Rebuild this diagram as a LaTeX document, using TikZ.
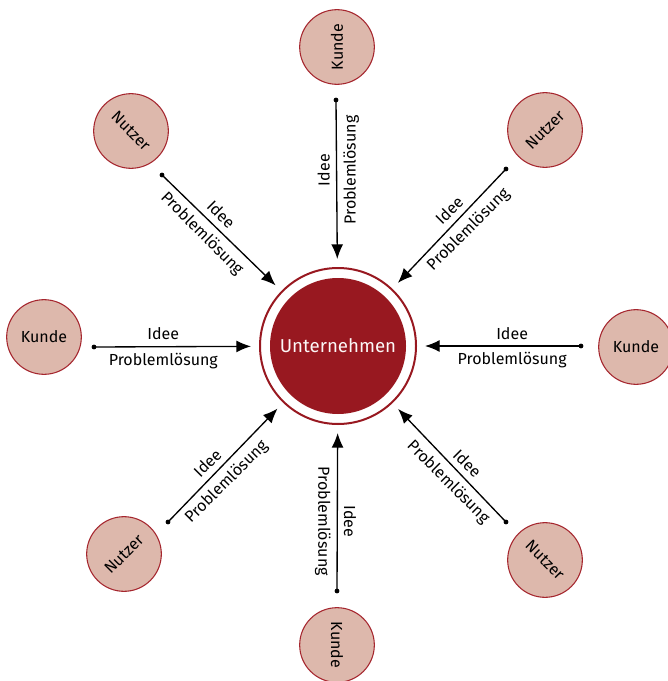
\documentclass[tikz,border=0pt]{standalone}
\usepackage{fontspec}
\setmainfont{Fira Sans}
\usetikzlibrary{arrows.meta}
\definecolor{firmred}{RGB}{152,24,32}
\definecolor{rimred}{RGB}{165,38,46}
\definecolor{rosefill}{RGB}{221,184,172}
\tikzset{actor/.style={circle, draw=rimred, line width=0.8pt, fill=rosefill, minimum size=56pt, inner sep=0pt, font=\fontsize{12}{14}\selectfont}}
\tikzset{flow/.style={-{Latex[length=11pt,width=9pt]}, line width=1pt, shorten >=6pt}}
\tikzset{tag/.style={font=\fontsize{12}{14}\selectfont, pos=0.42, inner sep=4.5pt}}

\begin{document}
\begin{tikzpicture}[x=0.75pt, y=-0.75pt]
        \useasboundingbox (0,0) rectangle (667,681);

        \coordinate (pT) at (336,100);
        \coordinate (pL) at (94,347);
        \coordinate (pR) at (581,346);
        \coordinate (pB) at (337,591);
        \coordinate (pTL) at (162,175);
        \coordinate (pTR) at (506,169);
        \coordinate (pBL) at (168,522);
        \coordinate (pBR) at (506,522);
        %
        \node[circle, fill=firmred, minimum size=102pt, text=white!90!rosefill, font=\fontsize{14}{16}\selectfont] (u) at (338,346) {Unternehmen};
        \node[circle, draw=firmred, line width=1.5pt, minimum size=117pt] (ring) at (u) {};
        %
        \node[actor, rotate=90] (kT) at (337,47) {Kunde};
        \node[actor] (kL) at (44,337) {Kunde};
        \node[actor] (kR) at (636,347) {Kunde};
        \node[actor, rotate=-90] (kB) at (337,645) {Kunde};
        \node[actor, rotate=-45] (nTL) at (131,131) {Nutzer};
        \node[actor, rotate=45] (nTR) at (545,130) {Nutzer};
        \node[actor, rotate=45] (nBL) at (124,554) {Nutzer};
        \node[actor, rotate=-45] (nBR) at (545,560) {Nutzer};
        %
        \draw[flow] (pT) -- node[tag, above, rotate=90]{Idee} node[tag, below, rotate=90]{Problemlösung} (ring);
        \draw[flow] (pB) -- node[tag, above, rotate=-90]{Idee} node[tag, below, rotate=-90]{Problemlösung} (ring);
        \draw[flow] (pL) -- node[tag, above]{Idee} node[tag, below]{Problemlösung} (ring);
        \draw[flow] (pR) -- node[tag, above]{Idee} node[tag, below]{Problemlösung} (ring);
        \draw[flow] (pTL) -- node[tag, above, rotate=-45]{Idee} node[tag, below, rotate=-45]{Problemlösung} (ring);
        \draw[flow] (pBR) -- node[tag, above, rotate=-45]{Idee} node[tag, below, rotate=-45]{Problemlösung} (ring);
        \draw[flow] (pTR) -- node[tag, above, rotate=45]{Idee} node[tag, below, rotate=45]{Problemlösung} (ring);
        \draw[flow] (pBL) -- node[tag, above, rotate=45]{Idee} node[tag, below, rotate=45]{Problemlösung} (ring);
        %
        \foreach \p in {pT,pL,pR,pB,pTL,pTR,pBL,pBR}
            \fill (\p) circle (1.8pt);
\end{tikzpicture}
\end{document}
